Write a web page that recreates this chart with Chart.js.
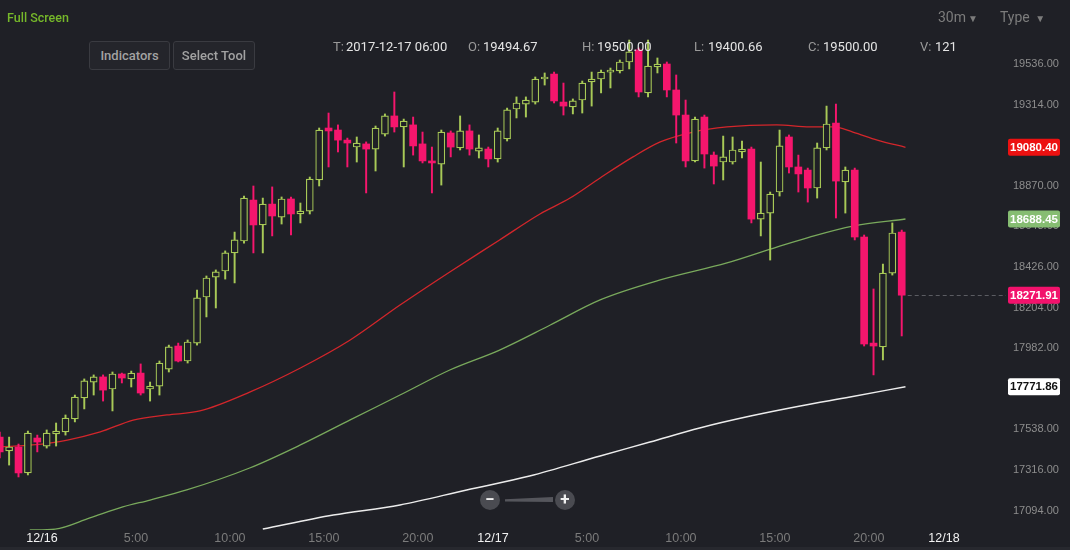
<!DOCTYPE html>
<html>
<head>
<meta charset="utf-8">
<script src="https://cdn.jsdelivr.net/npm/chart.js@4.4.1/dist/chart.umd.min.js"></script>
<style>
  html, body { margin: 0; padding: 0; background: #1f2026; }
  #wrap { position: relative; width: 1070px; height: 550px; overflow: hidden; background: #1f2026; font-family: Roboto, "Liberation Sans", sans-serif; }
  #chart { position: absolute; left: 0; top: 0; }
  .t { position: absolute; white-space: nowrap; }
  .lbl { color: #9a9a9a; font-size: 13px; line-height: 14px; top: 40px; }
  .val { color: #e4e4e4; font-size: 13px; line-height: 14px; top: 40px; }
  .btn { position: absolute; top: 41px; height: 27px; line-height: 27px; border: 1px solid #3a3b41; border-radius: 3px;
         background: #24252b; color: #a2a2a2; font-size: 13px; font-weight: 500; text-align: center; }
  .menu { color: #7c7c7c; font-size: 14px; top: 9px; }
  .menu span { font-size: 10px; margin-left: 2px; }
  .circ { position: absolute; width: 20px; height: 20px; border-radius: 10px; background: #4a4b51;
          color: #f0f0f0; font-size: 17px; font-weight: bold; line-height: 19px; text-align: center; }
</style>
</head>
<body>
<div id="wrap">
  <canvas id="chart" width="1070" height="550"></canvas>

  <div class="t" style="left:7px; top:10px; color:#76b82a; font-size:12.5px; font-weight:500;">Full Screen</div>
  <div class="t menu" style="left:938px;">30m<span>&#9660;</span></div>
  <div class="t menu" style="left:1000px;">Type <span>&#9660;</span></div>

  <div class="btn" style="left:89px; width:79px;">Indicators</div>
  <div class="btn" style="left:173px; width:80px;">Select Tool</div>

  <div class="t lbl" style="left:333px;">T:</div><div class="t val" style="left:346px;">2017-12-17 06:00</div>
  <div class="t lbl" style="left:468px;">O:</div><div class="t val" style="left:483px;">19494.67</div>
  <div class="t lbl" style="left:582px;">H:</div><div class="t val" style="left:597px;">19500.00</div>
  <div class="t lbl" style="left:694px;">L:</div><div class="t val" style="left:708px;">19400.66</div>
  <div class="t lbl" style="left:808px;">C:</div><div class="t val" style="left:823px;">19500.00</div>
  <div class="t lbl" style="left:920px;">V:</div><div class="t val" style="left:935px;">121</div>

  <div class="circ" style="left:480px; top:490px;">&minus;</div>
  <div class="t" style="left:505px; top:497px; width:48px; height:5px; background:#55565c; clip-path:polygon(0 45%,100% 0,100% 100%,0 90%);"></div>
  <div class="circ" style="left:555px; top:490px;">+</div>
  <div class="t" style="left:0; top:547px; width:1070px; height:3px; background:#27282e;"></div>
</div>

<script>
// 30 minute candles, first slot is 12/15 21:30 (slots counted in half hours from 12/16 00:00)
const firstSlot = -4.5;

const opens = [17496,17420,17442,17300,17491,17447,17513,17524,17595,17710,
  17797,17825,17759,17841,17814,17846,17759,17775,17868,17994,
  17912,18010,18262,18371,18404,18503,18568,18792,18656,18770,
  18699,18798,18716,18732,18902,19186,19175,19120,19082,19099,
  19071,19153,19252,19192,19203,19099,19006,18989,19159,19077,
  19170,19060,19071,19017,19126,19290,19317,19328,19454,19481,
  19328,19301,19339,19438,19454,19492,19498,19547,19613,19378,
  19520,19536,19394,19257,19006,19246,19038,19000,19000,19055,
  19071,18688,18721,18836,19137,18973,18956,18858,19077,19213,
  18891,18956,18590,18010,17989,18393,18617];

const highs = [17524,17496,17458,17529,17507,17535,17573,17617,17726,17814,
  17836,17836,17852,17846,17857,17896,17797,17912,17999,18010,
  18027,18300,18377,18410,18514,18617,18814,18869,18803,18864,
  18809,18809,18776,18918,19186,19268,19203,19131,19137,19110,
  19197,19263,19383,19235,19246,19164,19082,19175,19170,19252,
  19203,19148,19082,19186,19295,19356,19356,19465,19487,19492,
  19432,19345,19443,19492,19503,19514,19558,19667,19624,19667,
  19569,19547,19476,19339,19246,19257,19055,19142,19137,19115,
  19082,19000,18836,19175,19148,19038,18967,19104,19306,19317,
  18973,18967,18601,18306,18442,18667,18628];

const lows = [17382,17343,17278,17289,17415,17436,17447,17507,17579,17650,
  17726,17693,17639,17792,17770,17726,17693,17726,17852,17907,
  17901,17999,18153,18202,18360,18339,18557,18503,18503,18596,
  18661,18601,18667,18716,18869,18973,19055,18973,19000,18831,
  18951,19142,19164,18973,19038,18995,18831,18874,19028,19066,
  19038,19022,18973,19000,19115,19241,19246,19317,19421,19323,
  19257,19263,19268,19306,19378,19405,19487,19509,19356,19356,
  19487,19356,19104,18973,19000,18967,18880,18902,18989,19022,
  18667,18596,18464,18814,18940,18836,18781,18803,19066,18694,
  18721,18574,17994,17836,17918,18382,18049];

const closes = [17415,17442,17300,17518,17469,17518,17529,17600,17715,17803,
  17825,17753,17841,17819,17846,17737,17775,17901,17989,17912,
  18016,18257,18366,18399,18503,18574,18803,18656,18770,18705,
  18798,18716,18732,18907,19175,19170,19120,19104,19104,19071,
  19186,19252,19192,19224,19088,19006,18995,19164,19082,19170,
  19071,19077,19017,19170,19285,19323,19339,19454,19465,19334,
  19306,19334,19432,19454,19492,19503,19547,19602,19383,19525,
  19536,19394,19257,19006,19235,19044,18978,19028,19066,19071,
  18688,18721,18825,19088,18973,18935,18858,19077,19208,18896,
  18956,18590,18005,17994,18393,18612,18271.91];

// moving averages (slot, price)
const redSlots = [-4.5,-1,2.7,6.2,9.7,13.3,16.8,22.1,27.5,32.8,38.1,43.4,48.7,53,56.2,59.4,62.9,65.8,69.3,72.9,78.2,81.7,84.2,86.3,88.9,91.9];
const redValues = [17442,17453,17480,17524,17589,17617,17639,17742,17874,18027,18218,18399,18574,18716,18803,18913,19028,19110,19164,19192,19203,19192,19192,19164,19120,19080.40];

const greenSlots = [-1.3,1.4,5.1,8.6,11.5,15.4,22.1,27.5,32.8,38.1,43.4,48.7,54.1,59.4,65.8,72.9,78.2,81.7,86.3,91.9];
const greenValues = [16988,16993,17054,17114,17152,17207,17327,17453,17590,17726,17863,17972,18109,18246,18355,18448,18535,18590,18650,18688.45];

const whiteSlots = [23.5,31,38.1,45.2,51.9,59.4,64.7,70,75.4,80.7,86,91.9];
const whiteValues = [16993,17070,17125,17207,17283,17393,17469,17546,17611,17666,17715,17771.86];

const xTickSlots = [0,10,20,30,40,48,58,68,78,88,96];
const xTickLabels = ["12/16","5:00","10:00","15:00","20:00","12/17","5:00","10:00","15:00","20:00","12/18"];
const yTicks = [19536,19314,19092,18870,18648,18426,18204,17982,17760,17538,17316,17094];

const tagValues = [19080.40, 18688.45, 18271.91, 17771.86];
const tagFill = ["#ec1111", "#86bd72", "#f2126c", "#ffffff"];
const tagText = ["#ffffff", "#ffffff", "#ffffff", "#111111"];

const bgColor = "#1f2026";
const upColor = "#a8c957";
const downColor = "#f5166d";

let isUp = (i) => closes[i] >= opens[i];

let bodies = opens.map((o, i) => ({ x: i + firstSlot, y: [o, closes[i]] }));
let wicks = opens.map((o, i) => ({ x: i + firstSlot, y: [lows[i], highs[i]] }));

let toPoints = (xs, ys) => xs.map((v, i) => ({ x: v, y: ys[i] }));

const tagsPlugin = {
  id: "tags",
  afterDatasetsDraw(chart) {
    const { ctx, chartArea, scales } = chart;
    let last = closes.length - 1;
    let yy = Math.round(scales.y.getPixelForValue(closes[last])) + 0.5;
    let xx = scales.x.getPixelForValue(last + firstSlot) + 6;
    ctx.save();
    ctx.strokeStyle = "#5b5c62";
    ctx.lineWidth = 1;
    ctx.setLineDash([4, 3]);
    ctx.beginPath();
    ctx.moveTo(xx, yy);
    ctx.lineTo(chartArea.right + 6, yy);
    ctx.stroke();
    ctx.restore();
  },
  afterDraw(chart) {
    const { ctx, scales } = chart;
    ctx.save();
    ctx.font = "bold 11.5px 'Liberation Sans', Arial, sans-serif";
    ctx.textAlign = "center";
    ctx.textBaseline = "middle";
    tagValues.forEach((v, i) => {
      let yy = scales.y.getPixelForValue(v);
      ctx.fillStyle = tagFill[i];
      ctx.beginPath();
      ctx.roundRect(1008, yy - 8.5, 52, 17, 2);
      ctx.fill();
      ctx.fillStyle = tagText[i];
      ctx.fillText(v.toFixed(2), 1034, yy + 0.5);
    });
    ctx.restore();
  },
};

new Chart(document.getElementById("chart"), {
  type: "bar",
  data: {
    datasets: [
      {
        data: bodies,
        order: 1,
        grouped: false,
        barThickness: 7,
        borderSkipped: false,
        backgroundColor: bodies.map((b, i) => (isUp(i) ? bgColor : downColor)),
        borderColor: bodies.map((b, i) => (isUp(i) ? upColor : downColor)),
        borderWidth: bodies.map((b, i) => (isUp(i) ? 1.2 : 0)),
        minBarLength: 2,
      },
      {
        data: wicks,
        order: 2,
        grouped: false,
        barThickness: 1.3,
        borderWidth: 0,
        backgroundColor: wicks.map((w, i) => (isUp(i) ? upColor : downColor)),
      },
      {
        type: "line",
        data: toPoints(redSlots, redValues),
        order: 3,
        borderColor: "#d3262b",
        borderWidth: 1.3,
        pointRadius: 0,
        cubicInterpolationMode: "monotone",
      },
      {
        type: "line",
        data: toPoints(greenSlots, greenValues),
        order: 3,
        borderColor: "#79a95c",
        borderWidth: 1.3,
        pointRadius: 0,
        cubicInterpolationMode: "monotone",
      },
      {
        type: "line",
        data: toPoints(whiteSlots, whiteValues),
        order: 3,
        borderColor: "#ececec",
        borderWidth: 1.5,
        pointRadius: 0,
        cubicInterpolationMode: "monotone",
      },
    ],
  },
  options: {
    responsive: false,
    animation: false,
    devicePixelRatio: 1,
    layout: { padding: 0 },
    plugins: {
      legend: { display: false },
      tooltip: { enabled: false },
    },
    scales: {
      x: {
        type: "linear",
        offset: false,
        min: -4.47,
        max: 101.96,
        grid: { display: false, drawTicks: false },
        border: { display: false },
        afterBuildTicks: (scale) => {
          scale.ticks = xTickSlots.map((v) => ({ value: v }));
        },
        afterFit: (scale) => {
          scale.height = 20;
          scale.paddingLeft = 0;
          scale.paddingRight = 0;
        },
        ticks: {
          autoSkip: false,
          maxRotation: 0,
          padding: 1,
          font: { family: "'Liberation Sans', Arial, sans-serif", size: 12.5 },
          color: (ctx) => (xTickLabels[ctx.index].includes("/") ? "#f2f2f2" : "#7b7b7b"),
          callback: (value, index) => xTickLabels[index],
        },
      },
      y: {
        position: "right",
        min: 16988,
        max: 19886,
        grid: { display: false, drawTicks: false },
        border: { display: false },
        afterBuildTicks: (scale) => {
          scale.ticks = yTicks.map((v) => ({ value: v }));
        },
        afterFit: (scale) => {
          scale.width = 70;
          scale.paddingTop = 0;
          scale.paddingBottom = 0;
        },
        ticks: {
          padding: 13,
          font: { family: "'Liberation Sans', Arial, sans-serif", size: 11 },
          color: "#8d8d8d",
          callback: (value) => Number(value).toFixed(2),
        },
      },
    },
  },
  plugins: [tagsPlugin],
});
</script>
</body>
</html>
